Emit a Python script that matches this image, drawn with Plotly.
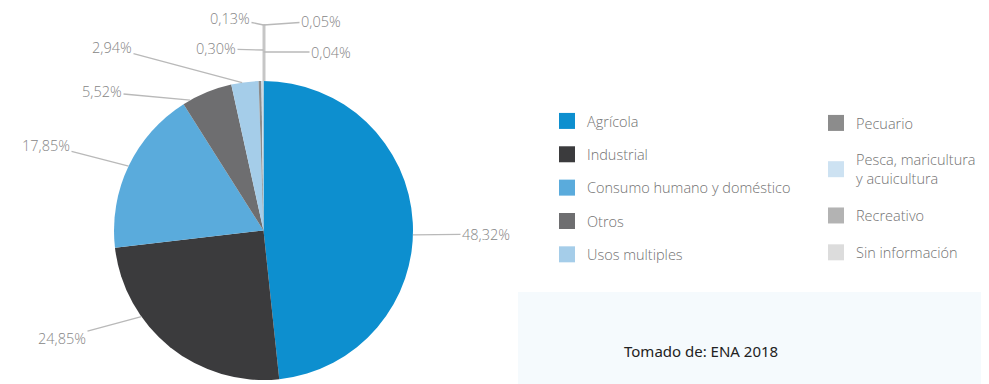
import math
import plotly.graph_objects as go

# ---------------- data ----------------
categories = ["Agrícola", "Industrial", "Consumo humano y doméstico", "Otros",
              "Usos multiples", "Pecuario", "Pesca, maricultura<br>y acuicultura",
              "Recreativo", "Sin información"]
values = [48.32, 24.85, 17.85, 5.52, 2.94, 0.30, 0.13, 0.05, 0.04]
colors = ["#0d8fcf", "#3b3b3d", "#5aabdc", "#6e6e70", "#a5cde9",
          "#8c8c8c", "#cde2f2", "#b3b3b3", "#dcdcdc"]
legend_groups = ["legend"] * 5 + ["legend2"] * 4

# ---------------- layout helpers ----------------
# the page body has an 8px default margin; size the figure so it fits the window
OFF = 8
W, H = 989 - OFF, 384 - OFF
PIE_L, PIE_R, PIE_T, PIE_B = 114, 413, 81, 380   # screen pixels
cx, cy = (PIE_L + PIE_R) / 2, (PIE_T + PIE_B) / 2
r = (PIE_R - PIE_L) / 2

def px(x):
    return (x - OFF) / W

def py(y):
    return 1 - (y - OFF) / H

# label text positions (screen pixels) and where along each slice the leader attaches
label_pos = [(486, 234), (62, 338), (46, 145), (102, 92), (112, 48),
             (216, 49), (230, 18), (321, 21), (331, 52)]
anchor_frac = [0.527, 0.68, 0.5, 0.15, 0.4, 0.5, 0.5, 0.5, 0.5]
tiny_leader_y = [None, None, None, None, None, 50, 25, 25, 52]

fig = go.Figure()

fig.add_trace(go.Pie(
    labels=categories, values=values, sort=False, direction="clockwise",
    rotation=0, textinfo="none", showlegend=False,
    marker=dict(colors=colors, line=dict(width=0)),
    domain=dict(x=[px(PIE_L), px(PIE_R)], y=[py(PIE_B), py(PIE_T)]),
))

# legend entries
for cat, col, lg in zip(categories, colors, legend_groups):
    fig.add_trace(go.Scatter(
        x=[None], y=[None], mode="markers", name=cat, legend=lg,
        legendgroup=cat,
        marker=dict(symbol="square", size=16, color=col),
    ))

annotations = []
shapes = []
total = sum(values)
cum = 0.0
for i, v in enumerate(values):
    theta = math.radians(360 * (cum + anchor_frac[i] * v) / total)
    hx = cx + r * math.sin(theta)
    hy = cy - r * math.cos(theta)
    cum += v
    if tiny_leader_y[i] is not None:
        hx, hy = cx, tiny_leader_y[i]
    tx, ty = label_pos[i]
    annotations.append(dict(
        x=px(hx), y=py(hy), xref="paper", yref="paper",
        ax=tx - hx, ay=ty - hy, axref="pixel", ayref="pixel",
        text=f"{v:.2f}".replace(".", ",") + "%",
        showarrow=True, arrowhead=0, arrowwidth=1.3, arrowcolor="#b9b9b9",
        standoff=0, startstandoff=0,
        font=dict(family="Open Sans", size=14.5, color="#858585", weight=300),
    ))

# vertical leader for the tiny slices at the top
shapes.append(dict(type="line", xref="paper", yref="paper",
                   x0=px(cx + 0.5), x1=px(cx + 0.5), y0=py(PIE_T), y1=py(24),
                   line=dict(color="#c6c6c6", width=3)))
# faint panel bottom right
shapes.append(dict(type="rect", xref="paper", yref="paper", layer="below",
                   x0=px(518), x1=1, y0=0, y1=py(292),
                   fillcolor="#f5fafd", line=dict(width=0)))

annotations.append(dict(
    x=px(622), y=py(351), xref="paper", yref="paper", xanchor="left",
    yanchor="middle", showarrow=False, text="Tomado de: ENA 2018",
    font=dict(family="Noto Sans", size=15, color="#222222"),
))

legend_common = dict(
    font=dict(family="Open Sans", size=14.5, color="#727272", weight=300),
    bgcolor="rgba(0,0,0,0)", traceorder="grouped",
    xanchor="left", yanchor="top", itemclick=False,
)
fig.update_layout(
    width=W, height=H, margin=dict(l=0, r=0, t=0, b=0),
    paper_bgcolor="white", plot_bgcolor="white",
    xaxis=dict(visible=False), yaxis=dict(visible=False),
    legend=dict(x=px(547), y=py(105), tracegroupgap=11.5, **legend_common),
    legend2=dict(x=px(816), y=py(107), tracegroupgap=15, **legend_common),
    annotations=annotations, shapes=shapes,
    showlegend=True,
)

fig.write_html("out.html")
